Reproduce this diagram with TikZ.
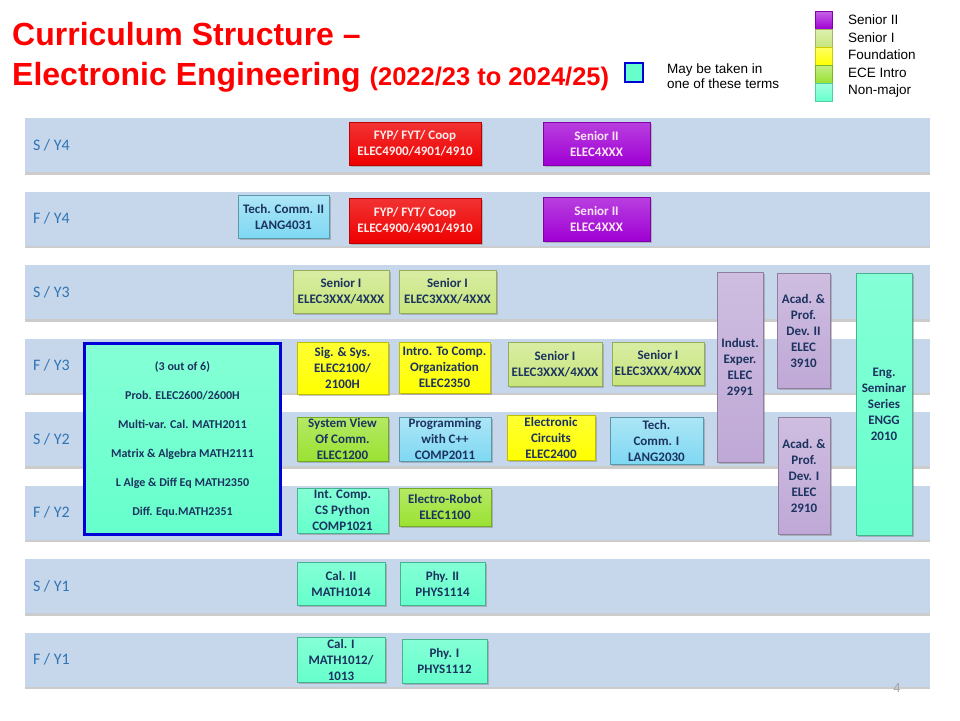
\documentclass[tikz,border=0pt]{standalone}
\usepackage{fontspec}
\setmainfont{Liberation Sans}
\newfontfamily\calib{Carlito}
\usetikzlibrary{shadows}
\definecolor{bandblue}{HTML}{C6D6EB}
\definecolor{labblue}{HTML}{2E75B6}
\definecolor{cNavy}{HTML}{1C3360}
\definecolor{cRed}{HTML}{EE0000}
\definecolor{cPurp}{HTML}{A000D4}
\definecolor{cLime}{HTML}{C8E57C}
\definecolor{cYel}{HTML}{FFFF00}
\definecolor{cGrn}{HTML}{9BE232}
\definecolor{cAqua}{HTML}{66FFCC}
\definecolor{cSky}{HTML}{7FD8F2}
\definecolor{cLav}{HTML}{BFA8D6}
\tikzstyle{band}=[fill=bandblue, minimum width=905pt, minimum height=54pt, inner sep=0pt, drop shadow={shadow xshift=0pt, shadow yshift=-2.5pt, opacity=.4}]
\tikzstyle{bandlab}=[text=labblue, font=\calib\fontsize{16}{18}\selectfont, inner sep=0pt]
\tikzstyle{course}=[inner sep=0pt, align=center, text=cNavy, font=\calib\bfseries\fontsize{13}{16}\selectfont, drop shadow={shadow xshift=1.5pt, shadow yshift=-1.5pt, opacity=.45}]
\tikzstyle{fyp}=[course, top color=cRed!80!white, bottom color=cRed, draw=cRed!80!black, text=white!92!red]
\tikzstyle{senii}=[course, top color=cPurp!75!white, bottom color=cPurp, draw=cPurp!80!black, text=white!90!magenta]
\tikzstyle{seni}=[course, top color=cLime!70!white, bottom color=cLime, draw=cLime!75!black]
\tikzstyle{found}=[course, top color=cYel!80!white, bottom color=cYel, draw=cYel!75!black]
\tikzstyle{eceintro}=[course, top color=cGrn!75!white, bottom color=cGrn, draw=cGrn!75!black]
\tikzstyle{nonmajor}=[course, top color=cAqua!80!white, bottom color=cAqua, draw=cAqua!70!black]
\tikzstyle{lang}=[course, top color=cSky!65!white, bottom color=cSky, draw=cSky!70!black]
\tikzstyle{exper}=[course, top color=cLav!75!white, bottom color=cLav, draw=cLav!75!black]
\tikzstyle{title}=[text=red, font=\bfseries\fontsize{32}{36}\selectfont, inner sep=0pt]
\tikzstyle{keylab}=[font=\fontsize{13.5}{15}\selectfont, inner sep=0pt, align=left]
\tikzset{wh/.style 2 args={minimum width=#1pt, minimum height=#2pt}}

\begin{document}
\begin{tikzpicture}[x=1pt,y=-1pt]
	\useasboundingbox[fill=white] (0,0) rectangle (960,720);
	% title and legend
	\node[title, anchor=base west] (t1) at (12,45) {Curriculum Structure –};
	\node[title, anchor=base west] (t2) at (12,85) {Electronic Engineering {\fontsize{25.5}{28}\selectfont (2022/23 to 2024/25)}};
	\node[draw=blue!85!black, line width=2pt, fill=cAqua, wh={18}{19}, inner sep=0pt, drop shadow={shadow xshift=1pt, shadow yshift=-1pt, opacity=.4}] (anymark) at (634,72.5) {};
	\node[keylab, anchor=west] (anytext) at (667,76) {May be taken in\\one of these terms};
	\foreach \c/\t [count=\i from 0] in {cPurp/Senior II, cLime/Senior I, cYel/Foundation, cGrn/ECE Intro, cAqua/Non-major}{
		\node[top color=\c!60!white, bottom color=\c, draw=\c!80!black, wh={17}{18}, inner sep=0pt] (legsq\i) at (823.5,{20+18*\i}) {};
		\node[keylab, anchor=west] (leglab\i) at (848,{19.5+17.8*\i}) {\t};
	}
	% term bands
	\foreach \t [count=\i from 0] in {S / Y4, F / Y4, S / Y3, F / Y3, S / Y2, F / Y2, S / Y1, F / Y1}{
		\node[band] (band\i) at (477.5,{145+73.5*\i}) {};
		\node[bandlab, anchor=west] (lab\i) at ([xshift=8pt]band\i.west) {\t};
	}
	% year 4
	\node[fyp, wh={132}{43}] (fypS) at (415,143.5) {FYP/ FYT/ Coop\\ELEC4900/4901/4910};
	\node[senii, wh={107}{43}] (senS) at (596.5,143.5) {Senior II\\ELEC4XXX};
	\node[lang, wh={91}{43}] (tcii) at (283.5,216.5) {Tech. Comm. II\\LANG4031};
	\node[fyp, wh={132}{45}] (fypF) at (415,220.5) {FYP/ FYT/ Coop\\ELEC4900/4901/4910};
	\node[senii, wh={107}{44}] (senF) at (596.5,219) {Senior II\\ELEC4XXX};
	% year 3
	\node[seni, wh={96}{43}] (senIa) at (341,291.5) {Senior I\\ELEC3XXX/4XXX};
	\node[seni, wh={97}{43}] (senIb) at (447.5,291.5) {Senior I\\ELEC3XXX/4XXX};
	\node[found, wh={91}{52}] (sigsys) at (342.5,368) {Sig. \& Sys.\\ELEC2100/\\2100H};
	\node[found, wh={91}{51}] (organ) at (444.5,367.5) {Intro. To Comp.\\Organization\\ELEC2350};
	\node[seni, wh={94}{44}] (senIc) at (555,364) {Senior I\\ELEC3XXX/4XXX};
	\node[seni, wh={92}{43}] (senId) at (658,363.5) {Senior I\\ELEC3XXX/4XXX};
	\node[exper, wh={46}{190}] (indust) at (740,367) {Indust.\\Exper.\\ELEC\\2991};
	\node[exper, wh={53}{115}] (acadii) at (803.5,330.5) {Acad. \&\\Prof.\\Dev. II\\ELEC\\3910};
	\node[nonmajor, wh={56}{262}] (seminar) at (884,404) {Eng.\\Seminar\\Series\\ENGG\\2010};
	\node[exper, wh={52}{117}] (acadi) at (804,475.5) {Acad. \&\\Prof.\\Dev. I\\ELEC\\2910};
	% year 2
	\node[nonmajor, draw=blue!85!black, line width=3pt, wh={196}{191}, font=\calib\bfseries\fontsize{12}{29}\selectfont] (maths) at (182.5,439) {(3 out of 6)\\Prob. ELEC2600/2600H\\Multi-var. Cal. MATH2011\\Matrix \& Algebra MATH2111\\L Alge \& Diff Eq MATH2350\\Diff. Equ.MATH2351};
	\node[eceintro, wh={91}{44}] (sysview) at (342.5,439) {System View\\Of Comm.\\ELEC1200};
	\node[lang, wh={92}{44}] (cpp) at (445,439) {Programming\\with C++\\COMP2011};
	\node[found, wh={88}{45}] (circ) at (551,437.5) {Electronic\\Circuits\\ELEC2400};
	\node[lang, wh={93}{47}] (tci) at (656.5,440.5) {Tech.\\Comm. I\\LANG2030};
	\node[nonmajor, wh={91}{45}] (python) at (342.5,510.5) {Int. Comp.\\CS Python\\COMP1021};
	\node[eceintro, wh={92}{38}] (robot) at (445,507) {Electro-Robot\\ELEC1100};
	% year 1
	\node[nonmajor, wh={88}{43}] (calii) at (341,583.5) {Cal. II\\MATH1014};
	\node[nonmajor, wh={85}{43}] (phyii) at (442.5,583.5) {Phy. II\\PHYS1114};
	\node[nonmajor, wh={88}{45}] (cali) at (341,659.5) {Cal. I\\MATH1012/\\1013};
	\node[nonmajor, wh={85}{44}] (phyi) at (444.5,661) {Phy. I\\PHYS1112};
	\node[text=gray!70, font=\fontsize{13}{15}\selectfont] (pg) at (897,688) {4};
\end{tikzpicture}
\end{document}
